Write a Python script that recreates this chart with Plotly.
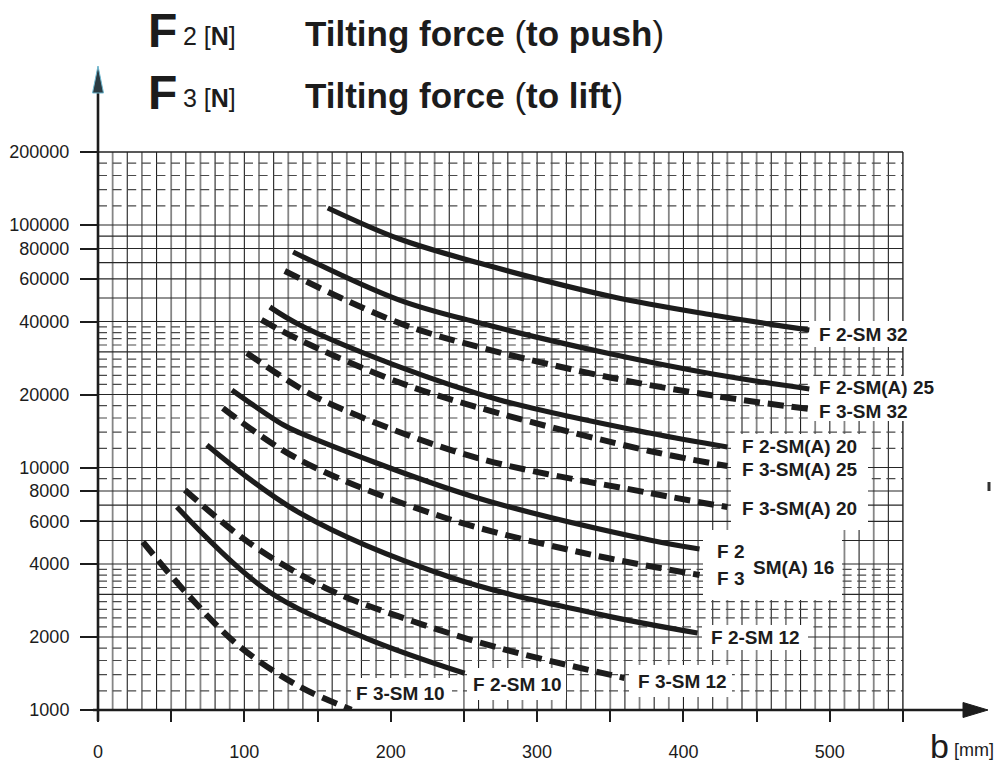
import math
import plotly.graph_objects as go

# ---------------- data ----------------
# b [mm] and force [N] for each curve
b_F2_SM32 = [157, 206, 261, 351.5, 420, 486]
f_F2_SM32 = [117500, 87500, 69500, 50600, 42550, 36900]

b_F2_SMA25 = [133.3, 206, 261, 351.5, 420, 486]
f_F2_SMA25 = [77400, 49000, 39400, 29300, 24300, 21070]

b_F3_SM32 = [127.6, 206, 265.5, 351.5, 420, 486]
f_F3_SM32 = [64600, 39400, 30800, 23400, 19800, 17420]

b_F2_SMA20 = [117.4, 137.9, 206, 274.4, 376.8, 430]
f_F2_SMA20 = [45900, 38700, 26000, 19000, 13870, 12150]

b_F3_SMA25 = [111.7, 137.9, 206, 274.4, 376.8, 430]
f_F3_SMA25 = [40600, 33570, 22400, 16700, 11700, 10140]

b_F3_SMA20 = [101.7, 137.9, 160.4, 256, 376.8, 430]
f_F3_SMA20 = [29650, 21270, 18100, 11080, 7850, 6870]

b_F2_SMA16 = [91.5, 126.5, 137.9, 256, 376.8, 411]
f_F2_SMA16 = [20870, 15000, 13900, 7600, 5024, 4613]

b_F3_SMA16 = [85.3, 137.9, 235.5, 331, 411]
f_F3_SMA16 = [17590, 10740, 6250, 4450, 3603]

b_F2_SM12 = [74.4, 137.9, 240.3, 342.7, 409.6]
f_F2_SM12 = [12390, 6490, 3535, 2480, 2078]

b_F3_SM12 = [59.4, 103.8, 158.4, 206, 274.4, 359.7]
f_F3_SM12 = [8076, 4867, 3124, 2425, 1800, 1355]

b_F2_SM10 = [53.9, 115.2, 183.4, 250.5]
f_F2_SM10 = [6870, 3124, 1975, 1417]

b_F3_SM10 = [30.7, 60.5, 96.9, 137.9, 173.2]
f_F3_SM10 = [4930, 3030, 1824, 1248, 1003]

CURVES = [
    ("F 2-SM 32", "F2", b_F2_SM32, f_F2_SM32),
    ("F 2-SM(A) 25", "F2", b_F2_SMA25, f_F2_SMA25),
    ("F 3-SM 32", "F3", b_F3_SM32, f_F3_SM32),
    ("F 2-SM(A) 20", "F2", b_F2_SMA20, f_F2_SMA20),
    ("F 3-SM(A) 25", "F3", b_F3_SMA25, f_F3_SMA25),
    ("F 3-SM(A) 20", "F3", b_F3_SMA20, f_F3_SMA20),
    ("F 2-SM(A) 16", "F2", b_F2_SMA16, f_F2_SMA16),
    ("F 3-SM(A) 16", "F3", b_F3_SMA16, f_F3_SMA16),
    ("F 2-SM 12", "F2", b_F2_SM12, f_F2_SM12),
    ("F 3-SM 12", "F3", b_F3_SM12, f_F3_SM12),
    ("F 2-SM 10", "F2", b_F2_SM10, f_F2_SM10),
    ("F 3-SM 10", "F3", b_F3_SM10, f_F3_SM10),
]

# axis ticks / grid
X_TICKS = [0, 50, 100, 150, 200, 250, 300, 350, 400, 450, 500, 550]
X_TICK_TEXT = ["0", "", "100", "", "200", "", "300", "", "400", "", "500", ""]
Y_TICKS = [1000, 2000, 4000, 6000, 8000, 10000, 20000, 40000, 60000, 80000, 100000, 200000]
Y_TICK_TEXT = ["1000", "2000", "4000", "6000", "8000", "10000", "20000", "40000",
               "60000", "80000", "100000", "200000"]
X_GRID = list(range(10, 551, 10))
Y_GRID_SOLID = [2000, 3000, 4000, 5000, 6000, 7000, 8000, 10000, 20000, 30000,
                40000, 50000, 60000, 70000, 80000, 90000, 100000]
Y_GRID_DASHED = [1200, 1400, 1600, 1800, 2200, 2400, 2600, 2800, 3200, 3400, 3600, 3800,
                 9000, 12000, 14000, 16000, 18000, 22000, 24000, 26000, 28000,
                 32000, 34000, 36000, 38000, 120000, 140000, 160000, 180000]

X_MAX = 550
Y_MIN, Y_MAX = 1000, 200000

# ---------------- layout geometry (pixels) ----------------
W, H = 1000, 767
PL, PR, PT, PB = 98, 903, 152, 710
FONT = "Liberation Sans, Arial, Helvetica, sans-serif"
INK = "#1c1c1c"


def xp(px):
    return (px - PL) / (PR - PL)


def yp(py):
    return (PB - py) / (PB - PT)


fig = go.Figure()

shapes = []
# vertical grid
for v in X_GRID:
    grey = (v // 10) % 2 == 1
    shapes.append(dict(type="line", xref="x", yref="paper", x0=v, x1=v, y0=0, y1=1,
                       line=dict(color="#858585" if grey else "#222222",
                                 width=1.8 if grey else 1.1),
                       layer="below"))
# horizontal solid grid
for v in Y_GRID_SOLID:
    shapes.append(dict(type="line", xref="paper", yref="y", x0=0, x1=1, y0=v, y1=v,
                       line=dict(color="#262626", width=1.2), layer="below"))
# horizontal dashed grid
for v in Y_GRID_DASHED:
    shapes.append(dict(type="line", xref="paper", yref="y", x0=0, x1=1, y0=v, y1=v,
                       line=dict(color="#4a4a4a", width=1.2, dash="9px,5.6px"),
                       layer="below"))
# top and right border
shapes.append(dict(type="line", xref="paper", yref="paper", x0=0, x1=1, y0=1, y1=1,
                   line=dict(color="#222", width=1.4), layer="below"))
shapes.append(dict(type="line", xref="paper", yref="paper", x0=1, x1=1, y0=0, y1=1,
                   line=dict(color="#222", width=1.2), layer="below"))

# white label backgrounds (pixel rectangles)
white_boxes = [
    (809, 915, 321, 347),
    (809, 940, 376, 421),
    (731, 868, 434, 530),
    (703, 842, 530, 600),
    (702, 808, 625, 650),
    (629, 732, 665, 697),
    (467, 566, 668, 700),
    (351, 452, 678, 709),
]
for x0, x1, y0, y1 in white_boxes:
    shapes.append(dict(type="rect", xref="paper", yref="paper",
                       x0=xp(x0), x1=xp(x1), y0=yp(y1), y1=yp(y0),
                       fillcolor="white", line=dict(width=0), layer="below"))

# axes lines with arrows
shapes.append(dict(type="line", xref="paper", yref="paper",
                   x0=xp(PL), x1=xp(PL), y0=yp(721), y1=yp(88),
                   line=dict(color=INK, width=2.6)))
shapes.append(dict(type="line", xref="paper", yref="paper",
                   x0=xp(93), x1=xp(966), y0=yp(PB), y1=yp(PB),
                   line=dict(color=INK, width=2.6)))
shapes.append(dict(type="path", xref="paper", yref="paper",
                   path="M {},{} L {},{} L {},{} Z".format(
                       xp(PL), yp(66), xp(PL - 5.5), yp(93), xp(PL + 5.5), yp(93)),
                   fillcolor="#2b3b42", line=dict(color="#6fb8d0", width=1)))
shapes.append(dict(type="path", xref="paper", yref="paper",
                   path="M {},{} L {},{} L {},{} Z".format(
                       xp(988), yp(PB), xp(963), yp(PB - 7.5), xp(963), yp(PB + 7.5)),
                   fillcolor=INK, line=dict(color=INK, width=1)))
# small stray mark at the right edge of the scan
shapes.append(dict(type="rect", xref="paper", yref="paper",
                   x0=xp(987.5), x1=xp(990.5), y0=yp(491), y1=yp(482),
                   fillcolor="#333", line=dict(width=0)))

# curves
for name, kind, bx, fy in CURVES:
    fig.add_trace(go.Scatter(
        x=bx, y=fy, mode="lines", name=name,
        line=dict(color=INK, width=5.2 if kind == "F2" else 6,
                  shape="spline", smoothing=1.0,
                  dash="solid" if kind == "F2" else "16px,8px"),
        hoverinfo="name",
    ))

# annotations
ann = []


def label(text, px, py, size=19, bold=True, anchor="left"):
    t = "<b>" + text + "</b>" if bold else text
    ann.append(dict(text=t, xref="paper", yref="paper", x=xp(px), y=yp(py),
                    xanchor=anchor, yanchor="middle", showarrow=False,
                    font=dict(family=FONT, size=size, color=INK)))


label("F 2-SM 32", 817, 334)
label("F 2-SM(A) 25", 817, 387)
label("F 3-SM 32", 817, 411)
label("F 2-SM(A) 20", 740, 446)
label("F 3-SM(A) 25", 740, 470)
label("F 3-SM(A) 20", 740, 508)
label("F 2", 715, 551)
label("F 3", 715, 578)
label("SM(A) 16", 751, 567)
label("F 2-SM 12", 709, 637)
label("F 3-SM 12", 636, 681)
label("F 2-SM 10", 471, 684)
label("F 3-SM 10", 354, 693)

# title block
label("F", 146, 31, size=48)
label("2 [<b>N</b>]", 181, 36, size=25, bold=False)
label("<b>Tilting force</b> (<b>to push</b>)", 303, 33, size=35, bold=False)
label("F", 146, 93, size=48)
label("3 [<b>N</b>]", 181, 98, size=25, bold=False)
label("<b>Tilting force</b> (<b>to lift</b>)", 303, 95, size=35, bold=False)

# x axis unit
label("b", 928, 746, size=34, bold=False)
label("[mm]", 952, 750, size=18, bold=False)

fig.update_layout(
    width=W, height=H,
    margin=dict(l=PL, r=W - PR, t=PT, b=H - PB, pad=0),
    paper_bgcolor="white", plot_bgcolor="white",
    showlegend=False,
    shapes=shapes,
    annotations=ann,
    font=dict(family=FONT, color=INK),
    xaxis=dict(range=[0, X_MAX], tickvals=X_TICKS, ticktext=X_TICK_TEXT,
               ticks="outside", ticklen=11, tickwidth=1.5, tickcolor=INK,
               showgrid=False, zeroline=False, showline=False, automargin=False,
               tickfont=dict(family=FONT, size=18, color=INK), ticklabelstandoff=14),
    yaxis=dict(type="log", range=[math.log10(Y_MIN), math.log10(Y_MAX)],
               tickvals=Y_TICKS, ticktext=Y_TICK_TEXT,
               ticks="outside", ticklen=17, tickwidth=1.5, tickcolor=INK,
               showgrid=False, zeroline=False, showline=False, automargin=False,
               tickfont=dict(family=FONT, size=18, color=INK), ticklabelstandoff=7),
)

fig.write_html("out.html", config={"displayModeBar": False},
               post_script="document.body.style.margin='0px';")
